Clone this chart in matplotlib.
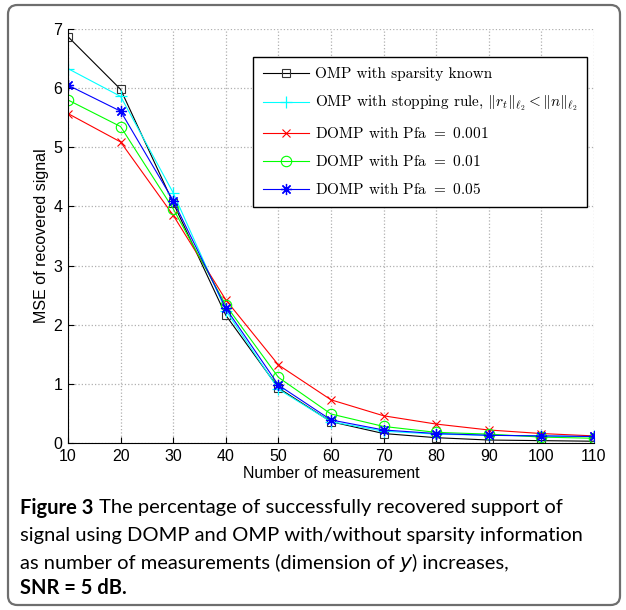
import numpy as np
import matplotlib
matplotlib.use("Agg")
import matplotlib.pyplot as plt
from matplotlib.patches import FancyBboxPatch

# data
measurements = [10, 20, 30, 40, 50, 60, 70, 80, 90, 100, 110]
omp_known = [6.87, 5.98, 4.06, 2.16, 0.93, 0.36, 0.16, 0.09, 0.05, 0.04, 0.03]
omp_stop = [6.33, 5.86, 4.23, 2.24, 0.91, 0.36, 0.20, 0.15, 0.13, 0.12, 0.11]
domp_001 = [5.57, 5.09, 3.85, 2.42, 1.32, 0.73, 0.46, 0.32, 0.22, 0.16, 0.12]
domp_01 = [5.80, 5.35, 3.96, 2.33, 1.11, 0.49, 0.28, 0.18, 0.15, 0.10, 0.08]
domp_05 = [6.05, 5.61, 4.10, 2.28, 0.98, 0.39, 0.22, 0.16, 0.13, 0.12, 0.11]

labels = ["OMP with sparsity known",
          r"OMP with stopping rule, $\|r_t\|_{\ell_2} < \|n\|_{\ell_2}$",
          r"DOMP with Pfa $=$ 0.001",
          r"DOMP with Pfa $=$ 0.01",
          r"DOMP with Pfa $=$ 0.05"]

plt.rcParams['mathtext.fontset'] = 'cm'

fig = plt.figure(figsize=(6.26, 6.10), dpi=100)

# rounded outer frame
frame = FancyBboxPatch((8/626, 5/610), 612/626, 600/610,
                       boxstyle="round,pad=0,rounding_size=0.015",
                       transform=fig.transFigure, facecolor='none',
                       edgecolor='#6e6e6e', linewidth=1.6, zorder=-5)
fig.patches.append(frame)

ax = fig.add_axes([68/626, 1 - 443/610, 526/626, 414/610])
ax.patch.set_alpha(0)

ax.plot(measurements, omp_known, color='k', lw=0.8, marker='s', ms=6, mfc='none', mec='#333333', mew=0.8)
ax.plot(measurements, omp_stop, color='#00ffff', lw=0.8, marker='+', ms=9, mew=0.9)
ax.plot(measurements, domp_001, color='#ff0000', lw=0.8, marker='x', ms=5.5, mew=0.8)
ax.plot(measurements, domp_01, color='#00ff00', lw=0.8, marker='o', ms=7.5, mfc='none', mew=0.8)
ax.plot(measurements, domp_05, color='#0000ff', lw=0.8, marker=(8, 2, 0), ms=8, mew=0.9)

ax.set_xlim(10, 110)
ax.set_ylim(0, 7)
ax.set_xticks(measurements)
ax.set_yticks(range(0, 8))
ax.grid(True, linestyle=':', color='#b0b0b0', linewidth=0.9)
ax.spines['top'].set_visible(False)
ax.spines['right'].set_visible(False)
ax.tick_params(direction='in', length=4, labelsize=11.5, pad=4)
for lab in ax.get_xticklabels() + ax.get_yticklabels():
    lab.set_family('Liberation Sans')

ax.set_xlabel("Number of measurement", family='Liberation Sans', fontsize=11.5, labelpad=2)
ax.set_ylabel("MSE of recovered signal", family='Liberation Sans', fontsize=11.5, labelpad=3)

leg = ax.legend(labels, loc='upper right', bbox_to_anchor=(587/626, 1 - 57/610),
                bbox_transform=fig.transFigure, fancybox=False, edgecolor='k',
                framealpha=1, prop={'family': 'cmr10', 'size': 11.0}, borderaxespad=0,
                handlelength=3.0, labelspacing=0.85, borderpad=0.65, handletextpad=0.35)
leg.get_frame().set_linewidth(1.0)

# caption
cap_font = 'Lato'
cs = 14.5
x0 = 20/626
y_lines = [1 - 508/610, 1 - 535/610, 1 - 562/610, 1 - 588/610]

def after(prev, s, y, **kw):
    # place text s right after the text artist prev
    fig.canvas.draw()
    bb = prev.get_window_extent()
    x = fig.transFigure.inverted().transform((bb.x1, 0))[0]
    return fig.text(x, y, s, fontsize=cs, va='center', **kw)

t1 = fig.text(x0, y_lines[0], "Figure 3", family=cap_font, weight='bold', fontsize=cs, va='center')
after(t1, " The percentage of successfully recovered support of", y_lines[0], family=cap_font)
fig.text(x0, y_lines[1], "signal using DOMP and OMP with/without sparsity information",
         family=cap_font, fontsize=cs, va='center')
t3 = fig.text(x0, y_lines[2], "as number of measurements (dimension of ", family=cap_font,
              fontsize=cs, va='center')
t3b = after(t3, "y", y_lines[2], family='DejaVu Sans', style='italic')
after(t3b, ") increases,", y_lines[2], family=cap_font)
fig.text(x0, y_lines[3], "SNR = 5 dB.", family=cap_font, weight='bold', fontsize=cs, va='center')

fig.savefig("out.png", dpi=100)
